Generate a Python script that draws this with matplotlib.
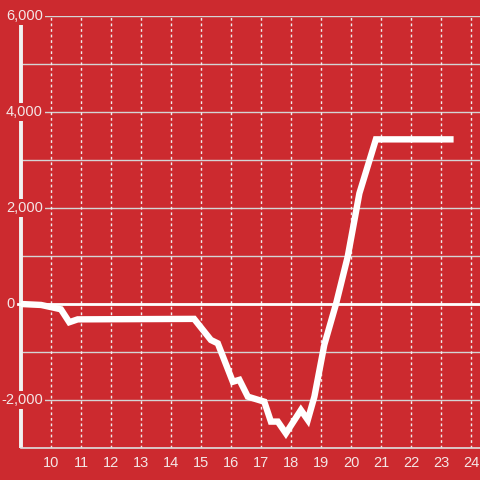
import matplotlib
matplotlib.use("Agg")
import matplotlib.pyplot as plt
import matplotlib.transforms as mtransforms

plt.rcParams["font.family"] = ["Liberation Sans", "DejaVu Sans"]

# hour of day vs. running balance
hours = [9.0, 9.67, 10.33, 10.61, 10.89, 14.77, 15.33, 15.56, 16.06, 16.28,
         16.56, 17.11, 17.33, 17.56, 17.83, 18.33, 18.56, 18.78, 19.11, 19.5,
         19.89, 20.28, 20.83, 23.42]
balance = [0, -20, -110, -380, -320, -310, -750, -820, -1620, -1580,
           -1930, -2035, -2450, -2450, -2695, -2210, -2415, -1930, -850, 0,
           985, 2306, 3430, 3430]

x_ticks = list(range(10, 25))
y_grid = list(range(-3000, 7000, 1000))
y_labels = [6000, 4000, 2000, 0, -2000]

bg = "#cc2a2f"
txt = "#f4e6e6"

fig = plt.figure(figsize=(4.8, 4.8), dpi=100, facecolor=bg)
ax = fig.add_axes([21 / 480, 32 / 480, 459 / 480, 432 / 480], facecolor=bg)
ax.set_xlim(9, 24.3)
ax.set_ylim(-3000, 6000)

# grid
for v in y_grid:
    ax.axhline(v, color="#d4d4d4", lw=1.0, zorder=1)
for t in x_ticks:
    ax.axvline(t, color="#eeeeee", lw=1.0, ls=(0, (2, 2)), zorder=1)

# spines
for s in ["top", "right", "left"]:
    ax.spines[s].set_visible(False)
ax.spines["bottom"].set_color("#dddddd")
ax.spines["bottom"].set_linewidth(1.2)
ax.plot([9.0, 9.0], [-3000, 5830], color="#f2f2f2", lw=2.8, clip_on=False,
        solid_capstyle="butt", zorder=2)

# zero line
ax.plot([8.9, 24.3], [0, 0], color="white", lw=2.0, clip_on=False, zorder=3)

# data
ax.plot(hours, balance, color="white", lw=4.6, solid_joinstyle="miter",
        solid_capstyle="butt", zorder=4)

ax.set_yticks([])
ax.set_xticks(x_ticks)
ax.set_xticklabels([str(t) for t in x_ticks], color=txt, fontsize=10.5)
ax.tick_params(axis="x", length=0, pad=6)

trans = mtransforms.blended_transform_factory(ax.transAxes, ax.transData)
for v in y_labels:
    if v == 0:
        xpos = (15 - 21) / 459
        pad = 0.05
    else:
        xpos = (43 - 21) / 459
        pad = 0.15
    ax.text(xpos, v, f"{v:,}", transform=trans, ha="right", va="center",
            color=txt, fontsize=10.5, clip_on=False, zorder=5,
            bbox=dict(boxstyle=f"square,pad={pad}", fc=bg, ec="none"))

fig.savefig("out.png", dpi=100, facecolor=bg)
